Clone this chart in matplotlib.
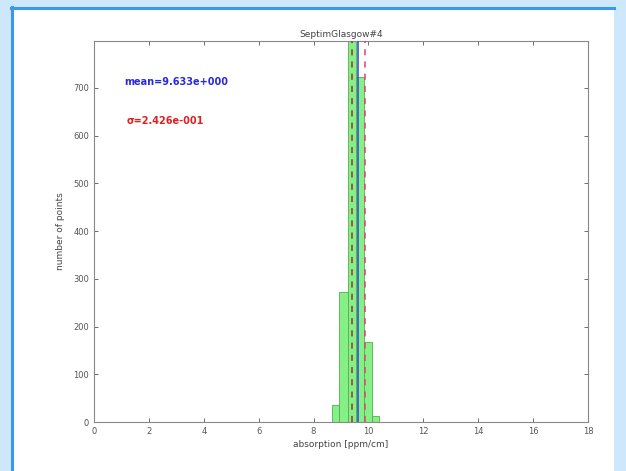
import matplotlib
matplotlib.use('Agg')
import matplotlib.pyplot as plt
from matplotlib.patches import Rectangle

# histogram data
bin_edges = [8.66, 8.92, 9.24, 9.54, 9.82, 10.13, 10.40]
counts = [35, 272, 1000, 723, 168, 12]
mean_val = 9.633
std_val = 0.2426

title = 'SeptimGlasgow#4'
xlabel = 'absorption [ppm/cm]'
ylabel = 'number of points'
xticks = [0, 2, 4, 6, 8, 10, 12, 14, 16, 18]
yticks = [0, 100, 200, 300, 400, 500, 600, 700]

W, H = 626, 471
fig = plt.figure(figsize=(W / 100, H / 100), dpi=100)
fig.patch.set_facecolor('#cde7fc')

# background panel: white page with blue top/left border
bg = fig.add_axes([0, 0, 1, 1], zorder=-1)
bg.set_xlim(0, W)
bg.set_ylim(H, 0)
bg.axis('off')
bg.add_patch(Rectangle((11, 7), 603, H - 7, facecolor='white', edgecolor='none'))
bg.plot([12, 12], [7, H], color='#3a98f2', lw=2.2)
bg.plot([11, 614], [8, 8], color='#3a98f2', lw=2.2)

ax = fig.add_axes([94 / W, (H - 422) / H, 494 / W, 381 / H])
ax.set_facecolor('white')

widths = [bin_edges[i + 1] - bin_edges[i] for i in range(len(counts))]
ax.bar(bin_edges[:-1], counts, width=widths, align='edge',
       color='#86f086', edgecolor='#4fb04f', linewidth=0.6, zorder=2)

ax.axvline(mean_val, color='#3a4fd8', lw=1.2, zorder=3)
ax.axvline(mean_val - std_val, color='#a03030', lw=1.1, ls=(0, (4, 4)), zorder=3)
ax.axvline(mean_val + std_val, color='#e0407a', lw=1.1, ls=(0, (4, 4)), zorder=3)

ax.text(1.09, 713, 'mean=%.3fe+000' % mean_val, color='#2a2ae0', fontsize=7,
        fontweight='bold', va='center', ha='left')
ax.text(1.2, 631, '\u03c3=%.3fe-001' % (std_val * 10), color='#e02020', fontsize=7,
        fontweight='bold', va='center', ha='left')

ax.set_xlim(0, 18)
ax.set_ylim(0, 798)
ax.set_xticks(xticks)
ax.set_yticks(yticks)
ax.tick_params(direction='in', length=3, width=0.6, labelsize=6,
               colors='#555555', top=True, right=True)
for s in ax.spines.values():
    s.set_color('#888888')
    s.set_linewidth(0.8)

ax.set_title(title, fontsize=6.5, color='#444444', pad=3)
ax.set_xlabel(xlabel, fontsize=6.5, color='#444444', labelpad=3)
ax.set_ylabel(ylabel, fontsize=6.5, color='#444444', labelpad=6)

fig.savefig('out.png', dpi=100, facecolor=fig.get_facecolor())
